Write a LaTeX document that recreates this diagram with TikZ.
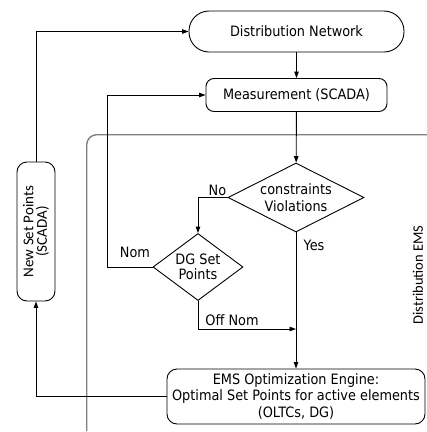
\documentclass[tikz,border=0pt]{standalone}
\usepackage{fontspec}
\setmainfont[FakeStretch=0.9]{DejaVu Sans}
\newfontfamily\calib{Carlito}
\usetikzlibrary{shapes.geometric,arrows.meta}
\definecolor{framegray}{RGB}{128,128,128}
\begin{document}
\begin{tikzpicture}[x=1pt,y=-1pt,
  every node/.style={font=\fontsize{14.3}{16.5}\selectfont, text=black},
  line/.style={draw=black, line width=0.9pt},
  arr/.style={line, -{Triangle[length=6.5pt,width=4.5pt]}},
  rbox/.style={draw, line width=0.9pt, rounded corners=8pt, align=center, inner sep=0pt},
  dia/.style={draw, diamond, line width=0.9pt, align=center, inner sep=0pt},
  lbl/.style={inner sep=0pt}]
\useasboundingbox (0,0) rectangle (427,432);
% Distribution EMS frame
\draw[framegray, line width=1.4pt, rounded corners=10pt] (427,134.7) -- (86.7,134.7) -- (86.7,431);
% nodes
\node[rbox, rounded corners=20pt, minimum width=215pt, minimum height=41pt] (dn) at (296.5,31.5) {Distribution Network};
\node[rbox, minimum width=181pt, minimum height=33pt] (meas) at (296.5,95) {Measurement (SCADA)};
\node[dia, minimum width=136pt, minimum height=69pt, shape aspect=2] (cv) at (296,197.5) {constraints\\Violations};
\node[dia, minimum width=90pt, minimum height=67pt, shape aspect=1.34, font=\fontsize{14.3}{15.5}\selectfont] (dg) at (198,267) {DG Set\\Points};
\node[rbox, rounded corners=10pt, minimum width=258pt, minimum height=55pt] (opt) at (296,396.5) {EMS Optimization Engine:\\Optimal Set Points for active elements\\(OLTCs, DG)};
\node[rbox, rounded corners=10pt, rotate=90, minimum width=139pt, minimum height=38pt, font=\calib\fontsize{15}{13.5}\selectfont] (nsp) at (36,231.5) {New Set Points\\(SCADA)};
\node[rotate=90, inner sep=0pt, font=\calib\fontsize{14.5}{16}\selectfont] (emslab) at (418,275) {Distribution EMS};
% labels
\node[lbl] (no) at (217.5,190) {No};
\node[lbl] (nom) at (135,252) {Nom};
\node[lbl] (offnom) at (232,320.5) {Off Nom};
\node[lbl] (yes) at (314,245) {Yes};
% connectors
\coordinate (m) at (296,329);
\coordinate (nomc) at (107,267);
\draw[arr] (dn) -- (meas);
\draw[arr] (meas) -- (cv);
\draw[arr] (cv.south) -- (opt.north);
\draw[arr] (cv.west) -| (dg.north);
\draw[arr] (dg.south) |- (m);
\draw[arr] (dg.west) -- (nomc) |- (meas.west);
\draw[arr] (opt.west) -| (nsp.west);
\draw[arr] (nsp.east) |- (dn.west);
\end{tikzpicture}
\end{document}
